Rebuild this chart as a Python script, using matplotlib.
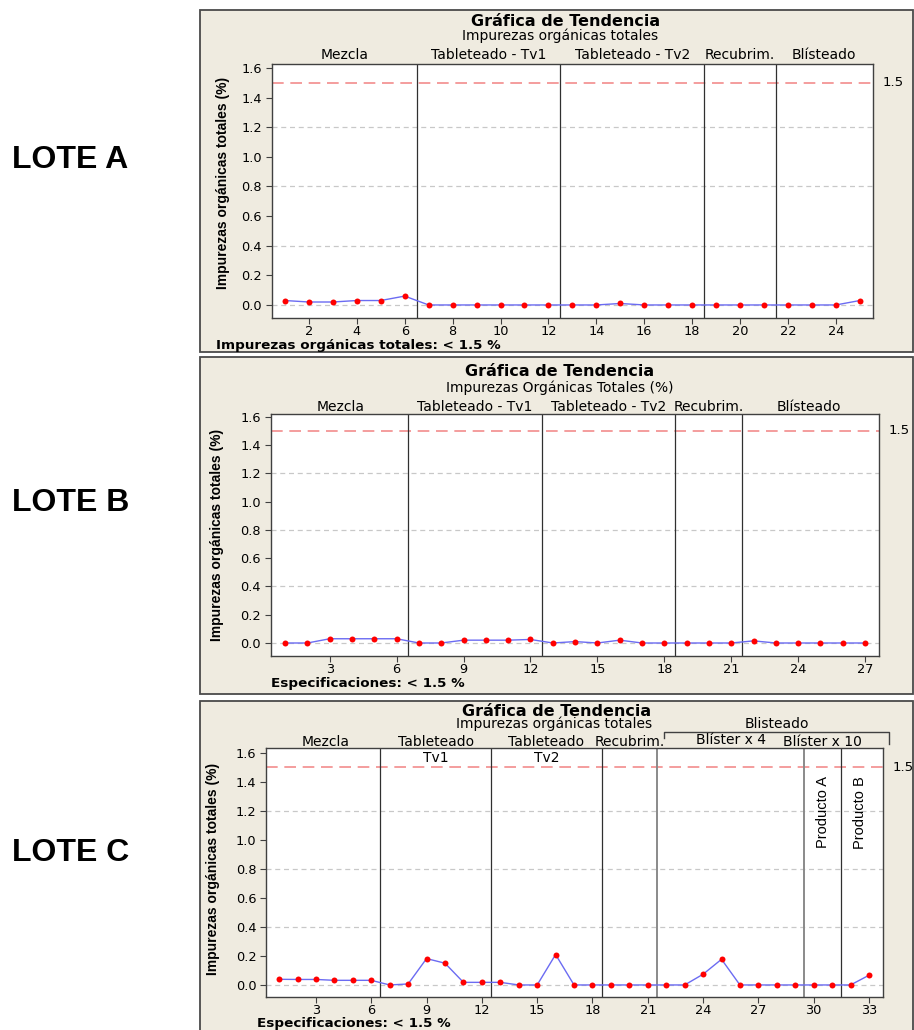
import matplotlib
matplotlib.use("Agg")
import matplotlib.pyplot as plt
from matplotlib.patches import Rectangle
from matplotlib.lines import Line2D
from matplotlib.ticker import FormatStrFormatter
from matplotlib.transforms import blended_transform_factory
import numpy as np

# Impurezas orgánicas totales (%) por muestra
lote_a = [0.03, 0.02, 0.02, 0.03, 0.03, 0.06,
          0, 0, 0, 0, 0, 0,
          0, 0, 0.01, 0, 0, 0,
          0, 0, 0,
          0, 0, 0, 0.03]
lote_b = [0, 0, 0.03, 0.03, 0.03, 0.03,
          0, 0, 0.02, 0.02, 0.02, 0.025,
          0, 0.01, 0, 0.02, 0, 0,
          0, 0, 0,
          0.015, 0, 0, 0, 0, 0]
lote_c = [0.039, 0.038, 0.038, 0.032, 0.032, 0.032,
          0, 0.007, 0.182, 0.15, 0.018, 0.018,
          0.018, 0, 0, 0.21, 0, 0,
          0, 0, 0,
          0, 0, 0.074, 0.177, 0, 0, 0, 0,
          0, 0,
          0, 0.067]

# Etapas y límites entre etapas
etapas_ab = ["Mezcla", "Tableteado - Tv1", "Tableteado - Tv2", "Recubrim.", "Blísteado"]
limites_ab = [6.5, 12.5, 18.5, 21.5]
etapas_c = ["Mezcla", "Tableteado", "Tableteado", "Recubrim.", "Blíster x 4", "Blíster x 10"]
sub_etapas_c = ["", "Tv1", "Tv2", "", "", ""]
limites_c = [6.5, 12.5, 18.5, 21.5, 29.5, 31.5]
productos_c = ["Producto A", "Producto B"]
grupo_c = "Blisteado"

especificacion = 1.5
lotes = ["LOTE A", "LOTE B", "LOTE C"]
titulo = "Gráfica de Tendencia"
subtitulos = ["Impurezas orgánicas totales", "Impurezas Orgánicas Totales (%)",
              "Impurezas orgánicas totales"]
pies = ["Impurezas orgánicas totales: < 1.5 %", "Especificaciones: < 1.5 %",
        "Especificaciones: < 1.5 %"]
ylabel = "Impurezas orgánicas totales (%)"

W, H = 914, 1030
BEIGE = "#EFEBE0"
ARIAL = "Liberation Sans"


def centros(limites, n):
    bordes = [0.5] + list(limites) + [n + 0.5]
    return [(bordes[i] + bordes[i + 1]) / 2 for i in range(len(bordes) - 1)]


def fx(px):
    return px / W


def fy(py):
    return 1 - py / H


# posiciones en pixeles de cada panel
paneles = [
    dict(valores=lote_a, etapas=etapas_ab, limites=limites_ab,
         caja=(200, 10, 913, 352), ejes=(271.5, 64, 873, 318),
         xlim=(0.44, 25.55), ylim=(-0.088, 1.627), paso=2,
         tit=(566, 22), sub=(560, 36), y_cat=55, pie=(216, 346),
         ylab=(223, 183), lote_y=160),
    dict(valores=lote_b, etapas=etapas_ab, limites=limites_ab,
         caja=(200, 357, 913, 694), ejes=(270.6, 414, 878.5, 656),
         xlim=(0.35, 27.6), ylim=(-0.092, 1.62), paso=3,
         tit=(560, 372), sub=(560, 388), y_cat=407, pie=(271, 684),
         ylab=(217, 535), lote_y=503),
    dict(valores=lote_c, etapas=etapas_c, limites=limites_c,
         caja=(200, 701, 913, 1032), ejes=(266, 748, 883, 997),
         xlim=(0.29, 33.76), ylim=(-0.083, 1.634), paso=3,
         tit=(557, 711), sub=(554, 724), y_cat=742, pie=(257, 1023),
         ylab=(213, 869), lote_y=853),
]

fig = plt.figure(figsize=(W / 100, H / 100), dpi=100)
fig.patch.set_facecolor("white")

for i, p in enumerate(paneles):
    l, t, r, b = p["caja"]
    fig.add_artist(Rectangle((fx(l), fy(b)), fx(r - l), (b - t) / H,
                             transform=fig.transFigure, facecolor=BEIGE,
                             edgecolor="#4a4a4a", lw=1.3, zorder=-5))

    el, et, er, eb = p["ejes"]
    ax = fig.add_axes([fx(el), fy(eb), fx(er - el), (eb - et) / H])
    ax.set_facecolor("white")

    vals = p["valores"]
    n = len(vals)
    x = np.arange(1, n + 1)

    for g in np.arange(0, 1.3, 0.4):
        ax.axhline(g, color="#C8C8C8", lw=0.9, dashes=(4, 3), zorder=1)
    ax.axhline(especificacion, color="#F28C8C", lw=1.2, dashes=(7, 4), zorder=1)
    for k, lim in enumerate(p["limites"]):
        gris = i == 2 and k in (3, 4)
        ax.axvline(lim, color="#8a8a8a" if gris else "#303030",
                   lw=1.4 if gris else 0.9, zorder=2)

    ax.plot(x, vals, color="#6B6BF2", lw=1.0, zorder=3)
    ax.plot(x, vals, "o", color="#FF0000", ms=4.3, mew=0, zorder=4)

    ax.set_xlim(*p["xlim"])
    ax.set_ylim(*p["ylim"])
    ax.set_xticks(np.arange(p["paso"], n + 1, p["paso"]))
    ax.set_yticks(np.arange(0, 1.61, 0.2))
    ax.yaxis.set_major_formatter(FormatStrFormatter("%.1f"))
    ax.tick_params(direction="out", length=4, width=0.8, color="#404040",
                   labelsize=9.3, labelcolor="black", pad=3)
    ax.tick_params(axis="x", pad=1)
    for s in ax.spines.values():
        s.set_color("#404040")
        s.set_linewidth(1.0)

    ax.annotate("1.5", xy=(1, especificacion), xycoords=("axes fraction", "data"),
                xytext=(7, 0), textcoords="offset points", va="center",
                ha="left", fontsize=9.5)

    tr = blended_transform_factory(ax.transData, fig.transFigure)
    cx = centros(p["limites"], n)
    for k, et_name in enumerate(p["etapas"]):
        yy = p["y_cat"] - 2 if et_name == "Blíster x 4" else p["y_cat"]
        ax.text(cx[k], fy(yy), et_name, transform=tr, ha="center", va="center",
                fontsize=10)

    # títulos
    fig.text(fx(p["tit"][0]), fy(p["tit"][1]), titulo, ha="center", va="center",
             fontsize=11.5, fontweight="bold")
    fig.text(fx(p["sub"][0]), fy(p["sub"][1]), subtitulos[i], ha="center",
             va="center", fontsize=10)
    fig.text(fx(p["pie"][0]), fy(p["pie"][1]), pies[i], ha="left", va="center",
             fontsize=9.7, fontweight="bold")
    fig.text(fx(p["ylab"][0]), fy(p["ylab"][1]), ylabel, rotation=90,
             ha="center", va="center", fontsize=10, fontweight="bold",
             family=ARIAL)
    fig.text(fx(12), fy(p["lote_y"]), lotes[i], ha="left", va="center",
             fontsize=23, fontweight="bold", family=ARIAL)

    if i == 2:
        for k, sub in enumerate(sub_etapas_c):
            if sub:
                ax.text(cx[k], 1.565, sub, ha="center", va="center", fontsize=10)
        sub_c = [(limites_c[4] + limites_c[5]) / 2, (limites_c[5] + n + 0.5) / 2]
        for xc, prod in zip(sub_c, productos_c):
            ax.text(xc, 1.44, prod, rotation=90, ha="center", va="top",
                    fontsize=10.5, family=ARIAL)
        # corchete del blisteado
        x0, x1 = limites_c[3] + 0.4, 34.1
        ax.add_line(Line2D([x0, x0, x1, x1], [fy(738), fy(732), fy(732), fy(744)],
                           transform=tr, color="#404040", lw=1.0, clip_on=False))
        ax.text((x0 + x1) / 2, fy(p["sub"][1]), grupo_c, transform=tr,
                ha="center", va="center", fontsize=10)

fig.savefig("out.png", dpi=100, facecolor="white")
